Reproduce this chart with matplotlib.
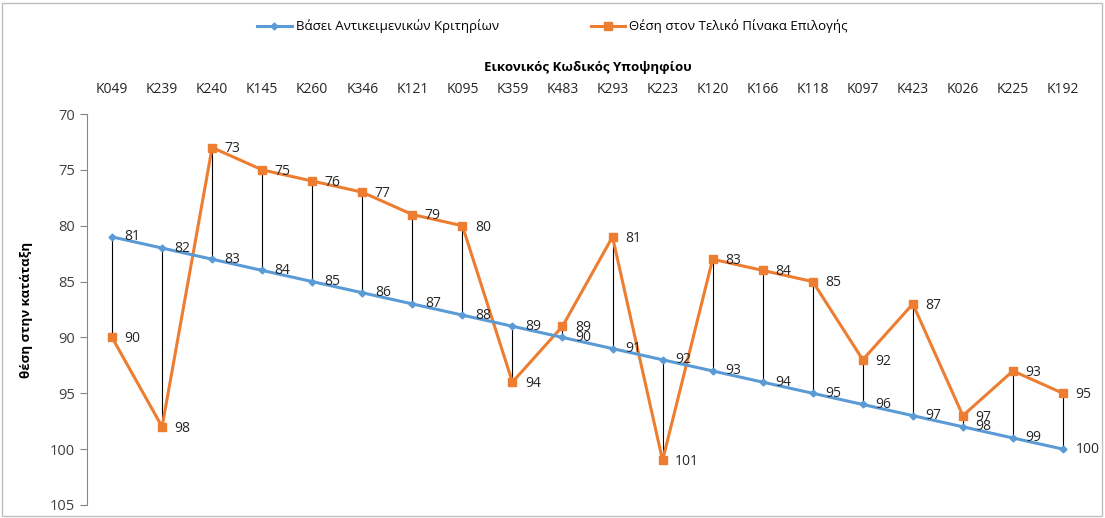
import matplotlib
matplotlib.use("Agg")
import matplotlib.pyplot as plt
from matplotlib.patches import Rectangle

plt.rcParams['font.family'] = ['Open Sans', 'DejaVu Sans']

categories = ["K049", "K239", "K240", "K145", "K260", "K346", "K121", "K095", "K359", "K483",
              "K293", "K223", "K120", "K166", "K118", "K097", "K423", "K026", "K225", "K192"]
objective_rank = [81, 82, 83, 84, 85, 86, 87, 88, 89, 90, 91, 92, 93, 94, 95, 96, 97, 98, 99, 100]
final_rank = [90, 98, 73, 75, 76, 77, 79, 80, 94, 89, 81, 101, 83, 84, 85, 92, 87, 97, 93, 95]
yticks = [70, 75, 80, 85, 90, 95, 100, 105]

blue = "#5B9BD5"
orange = "#ED7D31"

fig = plt.figure(figsize=(11.05, 5.18), dpi=100)
fig.patches.append(Rectangle((0.002, 0.004), 0.995, 0.99, transform=fig.transFigure,
                             fill=False, edgecolor="#BFBFBF", lw=1))
ax = fig.add_axes([87/1105, 1-505/518, (1088-87)/1105, (505-114)/518])

x = list(range(len(categories)))
ax.vlines(x, objective_rank, final_rank, color="black", lw=0.8, zorder=1)
ax.plot(x, objective_rank, color=blue, lw=2.2, marker="D", ms=3.5, label="Βάσει Αντικειμενικών Κριτηρίων", zorder=3)
ax.plot(x, final_rank, color=orange, lw=2.2, marker="s", ms=5.5, label="Θέση στον Τελικό Πίνακα Επιλογής", zorder=2)

for xi, v in zip(x, objective_rank):
    ax.annotate(str(v), (xi, v), xytext=(9, 0), textcoords="offset points", va="center", ha="left",
                fontsize=10, color="#262626")
for xi, v in zip(x, final_rank):
    ax.annotate(str(v), (xi, v), xytext=(9, -1), textcoords="offset points", va="center", ha="left",
                fontsize=10, color="#262626")

ax.set_xlim(-0.5, len(categories) - 0.5)
ax.set_ylim(105, 70)
ax.set_yticks(yticks)
ax.set_xticks(x)
ax.set_xticklabels(categories)
ax.xaxis.tick_top()
ax.xaxis.set_label_position("top")
ax.set_xlabel("Εικονικός Κωδικός Υποψηφίου", fontsize=9.5, fontweight="bold", labelpad=8)
ax.set_ylabel("θέση στην κατάταξη", fontsize=9.5, fontweight="bold", labelpad=12)
ax.tick_params(axis="x", length=0, labelsize=10, pad=12, colors="#262626")
ax.tick_params(axis="y", length=5, direction="out", labelsize=10.5, color="#868686", labelcolor="#404040")
for s in ["top", "right", "bottom"]:
    ax.spines[s].set_visible(False)
ax.spines["left"].set_color("#868686")

fig.legend(loc="upper center", bbox_to_anchor=(0.5, 0.985), ncol=2, frameon=False, fontsize=9.5,
           handlelength=2.6, columnspacing=7, handletextpad=0.3)

fig.savefig("out.png", dpi=100)
